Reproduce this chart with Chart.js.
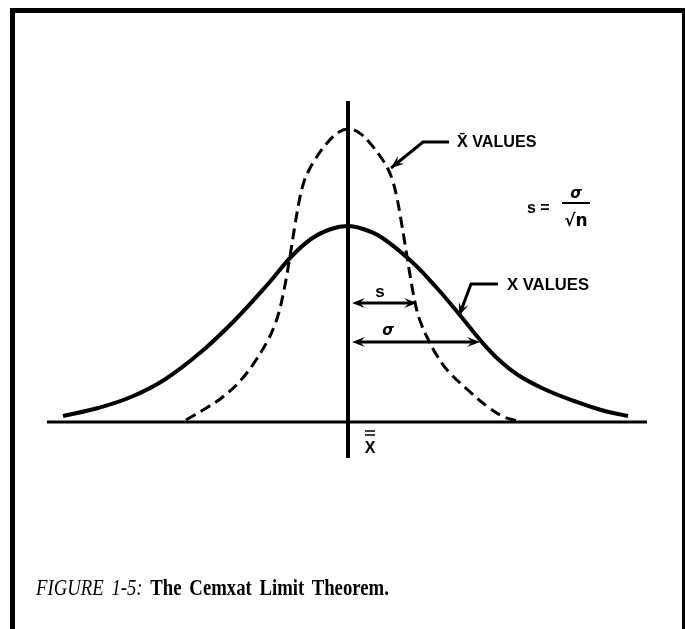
<!DOCTYPE html>
<html>
<head>
<title>The Central Limit Theorem</title>
<script src="https://cdn.jsdelivr.net/npm/chart.js@4.4.0/dist/chart.umd.min.js"></script>
<style>
    html, body { margin: 0; padding: 0; overflow: hidden; background: #fff; }
    #frame { position: absolute; left: 10px; top: 8px; width: 667px; height: 700px; border: 5px solid #000; border-bottom: none; }
    #cltChart { position: absolute; left: 0; top: 0; display: block; }
    #caption { position: absolute; left: 36px; top: 574px; font-family: "Liberation Serif"; font-size: 24px;
               transform-origin: left top; transform: scaleX(0.78); white-space: nowrap; word-spacing: 4px; }
</style>
</head>
<body>
<div id="frame"></div>
<canvas id="cltChart" width="685" height="629"></canvas>
<div id="caption"><i>FIGURE 1-5:</i> <b>The Cemxat Limit Theorem.</b></div>

<script>
    // curve of single x values (solid)
    xValuesX = [-2.85, -2.50, -2.17, -1.84, -1.47, -1.14, -0.80, -0.57, -0.37, -0.17, 0.00, 0.15, 0.33, 0.63, 0.88, 1.11, 1.33, 1.50, 1.70, 1.96, 2.26, 2.53, 2.80];
    xValuesY = [0.06, 0.14, 0.25, 0.42, 0.70, 1.01, 1.38, 1.65, 1.83, 1.93, 1.96, 1.93, 1.85, 1.61, 1.35, 1.08, 0.81, 0.63, 0.47, 0.33, 0.21, 0.12, 0.06];

    // curve of sample means (dashed)
    meansX = [-1.62, -1.40, -1.24, -1.07, -0.92, -0.80, -0.74, -0.69, -0.65, -0.61, -0.57, -0.53, -0.49, -0.45, -0.40, -0.32, -0.20, -0.09, 0.00,
              0.10, 0.21, 0.32, 0.40, 0.45, 0.49, 0.53, 0.57, 0.61, 0.65, 0.69, 0.74, 0.80, 0.88, 1.00, 1.20, 1.40, 1.56, 1.70];
    meansY = [0.02, 0.15, 0.26, 0.42, 0.62, 0.82, 0.95, 1.10, 1.27, 1.48, 1.72, 1.97, 2.20, 2.37, 2.50, 2.64, 2.80, 2.90, 2.93,
              2.90, 2.80, 2.66, 2.53, 2.40, 2.24, 2.02, 1.78, 1.53, 1.30, 1.11, 0.96, 0.83, 0.68, 0.51, 0.32, 0.15, 0.05, 0.01];

    // axes of the figure
    axisX = [-3.01, 2.99];
    axisY = [-0.36, 3.21];

    // annotation anchors (data units)
    sArrow = [0.04, 0.69, 1.19];        // from, to, height
    sigmaArrow = [0.04, 1.32, 0.80];
    meansPointer = [[1.01, 2.80], [0.75, 2.80], [0.43, 2.54]];
    valuesPointer = [[1.50, 1.38], [1.23, 1.38], [1.11, 1.06]];

    function pts(xs, ys) {
        return xs.map(function (v, i) { return { x: v, y: ys[i] }; });
    }

    function arrowHead(ctx, x1, y1, x0, y0) {
        // tip at x1,y1 pointing away from x0,y0
        var a = Math.atan2(y1 - y0, x1 - x0);
        var len = 13, half = 5;
        ctx.beginPath();
        ctx.moveTo(x1, y1);
        ctx.lineTo(x1 - len * Math.cos(a) + half * Math.sin(a), y1 - len * Math.sin(a) - half * Math.cos(a));
        ctx.lineTo(x1 - 0.6 * len * Math.cos(a), y1 - 0.6 * len * Math.sin(a));
        ctx.lineTo(x1 - len * Math.cos(a) - half * Math.sin(a), y1 - len * Math.sin(a) + half * Math.cos(a));
        ctx.closePath();
        ctx.fill();
    }

    function label(ctx, str, x, y, font, align, sx) {
        ctx.save();
        ctx.font = font;
        ctx.textBaseline = 'alphabetic';
        ctx.textAlign = align;
        ctx.translate(x, y);
        ctx.scale(sx, 1);
        ctx.fillText(str, 0, 0);
        ctx.restore();
    }

    drawings = {
        id: 'drawings',
        afterDatasetsDraw: function (chart) {
            var ctx = chart.ctx;
            var px = function (v) { return chart.scales.x.getPixelForValue(v); };
            var py = function (v) { return chart.scales.y.getPixelForValue(v); };
            ctx.save();
            ctx.strokeStyle = '#000';
            ctx.fillStyle = '#000';
            ctx.lineCap = 'butt';

            // s and sigma double arrows
            [sArrow, sigmaArrow].forEach(function (a) {
                var x0 = px(a[0]), x1 = px(a[1]), y = py(a[2]);
                ctx.lineWidth = 3;
                ctx.beginPath();
                ctx.moveTo(x0 + 6, y);
                ctx.lineTo(x1 - 6, y);
                ctx.stroke();
                arrowHead(ctx, x0, y, x1, y);
                arrowHead(ctx, x1, y, x0, y);
            });

            // pointers to the curves
            [meansPointer, valuesPointer].forEach(function (p) {
                ctx.lineWidth = 3;
                ctx.beginPath();
                ctx.moveTo(px(p[0][0]), py(p[0][1]));
                ctx.lineTo(px(p[1][0]), py(p[1][1]));
                ctx.lineTo(px(p[2][0]), py(p[2][1]));
                ctx.stroke();
                arrowHead(ctx, px(p[2][0]), py(p[2][1]), px(p[1][0]), py(p[1][1]));
            });

            var f = 'bold 17px "Liberation Sans"';
            label(ctx, 'X\u0304 VALUES', px(1.09), py(2.75), f, 'left', 0.95);
            label(ctx, 'X VALUES', px(1.59), py(1.32), f, 'left', 0.98);
            label(ctx, 's', px(0.32), py(1.25), 'bold 17px "Liberation Sans"', 'center', 1);
            label(ctx, '\u03C3', px(0.40), py(0.87), 'italic bold 15px "DejaVu Sans"', 'center', 1);

            // s = sigma / sqrt(n)
            label(ctx, 's =', px(1.79), py(2.09), 'bold 16px "Liberation Sans"', 'left', 1);
            label(ctx, '\u03C3', px(2.28), py(2.24), 'italic bold 15px "DejaVu Sans"', 'center', 1);
            ctx.lineWidth = 2;
            ctx.beginPath();
            ctx.moveTo(px(2.14), py(2.19));
            ctx.lineTo(px(2.42), py(2.19));
            ctx.stroke();
            label(ctx, '\u221An', px(2.28), py(1.96), 'bold 17px "DejaVu Sans"', 'center', 1);

            // grand mean under the axis
            label(ctx, 'X', px(0.22), py(-0.31), 'bold 16px "Liberation Sans"', 'center', 1);
            ctx.lineWidth = 1.5;
            [-0.09, -0.13].forEach(function (h) {
                ctx.beginPath();
                ctx.moveTo(px(0.17), py(h));
                ctx.lineTo(px(0.27), py(h));
                ctx.stroke();
            });
            ctx.restore();
        }
    };

    ctx = document.getElementById('cltChart');

    cltChart = new Chart(ctx, {
        type: 'line',
        data: {
            datasets: [{
                label: 'X values',
                data: pts(xValuesX, xValuesY),
                borderColor: '#000',
                borderWidth: 4,
                pointRadius: 0,
                tension: 0.4
            }, {
                label: 'X bar values',
                data: pts(meansX, meansY),
                borderColor: '#000',
                borderWidth: 3,
                borderDash: [11, 6],
                pointRadius: 0,
                tension: 0.4
            }, {
                label: 'baseline',
                data: pts(axisX, [0, 0]),
                borderColor: '#000',
                borderWidth: 3,
                pointRadius: 0
            }, {
                label: 'mean line',
                data: pts([0, 0], axisY),
                borderColor: '#000',
                borderWidth: 4,
                pointRadius: 0
            }]
        },
        options: {
            responsive: false,
            animation: false,
            layout: { padding: { left: 47, right: 38, top: 101, bottom: 171 } },
            plugins: { legend: { display: false }, tooltip: { enabled: false } },
            scales: {
                x: { type: 'linear', display: false, min: axisX[0], max: axisX[1] },
                y: { type: 'linear', display: false, min: axisY[0], max: axisY[1] }
            }
        },
        plugins: [drawings]
    });
</script>
</body>
</html>
